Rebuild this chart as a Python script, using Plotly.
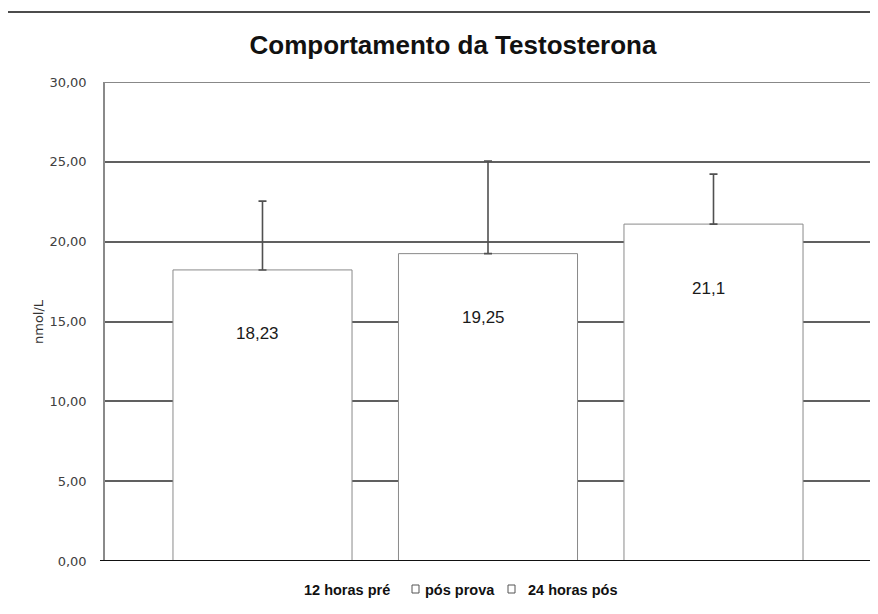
import plotly.graph_objects as go

categories = ["12 horas pré", "pós prova", "24 horas pós"]
values = [18.23, 19.25, 21.1]
value_labels = ["18,23", "19,25", "21,1"]
errors_up = [4.31, 5.8, 3.13]
y_ticks = [0, 5, 10, 15, 20, 25, 30]
y_tick_labels = ["0,00", "5,00", "10,00", "15,00", "20,00", "25,00", "30,00"]

# page has an 8px body margin; work in screenshot pixels and convert
OFF = 8
W, H = 878 - OFF, 614 - OFF
LEFT, RIGHT, TOP, BOTTOM = 105, 870, 82, 561   # plot area in screenshot px
ML = LEFT - OFF
MT = TOP - OFF
MR = W - (RIGHT - OFF)
MB = H - (BOTTOM - OFF)
pw = W - ML - MR
ph = H - MT - MB

xpos = list(range(len(categories)))

fig = go.Figure()
fig.add_trace(go.Bar(
    x=xpos, y=values, width=0.794,
    marker=dict(color="white", line=dict(color="#8a8a8a", width=1)),
    error_y=dict(type="data", symmetric=False, array=errors_up,
                 arrayminus=[0] * len(values),
                 color="#505050", thickness=1.6, width=4),
    showlegend=False, hoverinfo="skip",
))

for xi, v, lab in zip(xpos, values, value_labels):
    fig.add_annotation(x=xi - 0.02, y=v, text=lab, showarrow=False,
                       yshift=-64, font=dict(family="Liberation Sans", size=17, color="#1a1a1a"))

def px_x(px):
    return (px - LEFT) / pw

def px_y(py):
    return (BOTTOM - py) / ph

# Y axis title
fig.add_annotation(xref="paper", yref="paper", x=px_x(38), y=px_y(322), text="nmol/L",
                   textangle=-90, showarrow=False, xanchor="center", yanchor="middle",
                   font=dict(family="DejaVu Sans", size=13, color="#333333"))

# Legend (text)
leg_font = dict(family="Liberation Sans", size=14.5, color="#111111")
fig.add_annotation(xref="paper", yref="paper", x=px_x(302), y=px_y(590), text="<b>" + categories[0] + "</b>",
                   showarrow=False, xanchor="left", yanchor="middle", font=leg_font)
fig.add_annotation(xref="paper", yref="paper", x=px_x(423), y=px_y(590), text="<b>" + categories[1] + "</b>",
                   showarrow=False, xanchor="left", yanchor="middle", font=leg_font)
fig.add_annotation(xref="paper", yref="paper", x=px_x(526), y=px_y(590), text="<b>" + categories[2] + "</b>",
                   showarrow=False, xanchor="left", yanchor="middle", font=leg_font)
for sx in (412, 508):
    fig.add_shape(type="rect", xref="paper", yref="paper",
                  x0=px_x(sx), x1=px_x(sx + 7), y0=px_y(593), y1=px_y(585),
                  line=dict(color="#555555", width=1), fillcolor="white")

# top separator line
fig.add_shape(type="line", xref="paper", yref="paper", x0=px_x(5), x1=px_x(878),
              y0=px_y(12), y1=px_y(12), line=dict(color="#111111", width=1.5))
# zero line extending slightly left
fig.add_shape(type="line", xref="paper", yref="y", x0=px_x(100), x1=1, y0=0, y1=0,
              line=dict(color="#111111", width=2))
# top gridline at the range maximum
fig.add_shape(type="line", xref="paper", yref="y", x0=0, x1=1, y0=y_ticks[-1], y1=y_ticks[-1],
              line=dict(color="#606060", width=1.5), layer="below")

fig.update_layout(
    width=W, height=H,
    margin=dict(l=ML, r=MR, t=MT, b=MB),
    paper_bgcolor="white", plot_bgcolor="white",
    separators=",.",
    title=dict(text="<b>Comportamento da Testosterona</b>", x=px_x(453) * pw / W + ML / W,
               xanchor="center", y=px_y(45) * ph / H + MB / H, yanchor="middle",
               font=dict(family="Liberation Sans", size=26, color="#111111")),
    xaxis=dict(range=[-0.6984, 2.694], showticklabels=False, showgrid=False,
               zeroline=False, showline=False, ticks=""),
    yaxis=dict(range=[0, 30], tickvals=y_ticks, ticktext=y_tick_labels,
               showgrid=True, gridcolor="#606060", gridwidth=1.5,
               zeroline=False, showline=True, linecolor="#8a8a8a", linewidth=1.5,
               ticks="", ticklabelstandoff=14,
               tickfont=dict(family="DejaVu Sans", size=13, color="#404040")),
)

fig.write_html("out.html")
